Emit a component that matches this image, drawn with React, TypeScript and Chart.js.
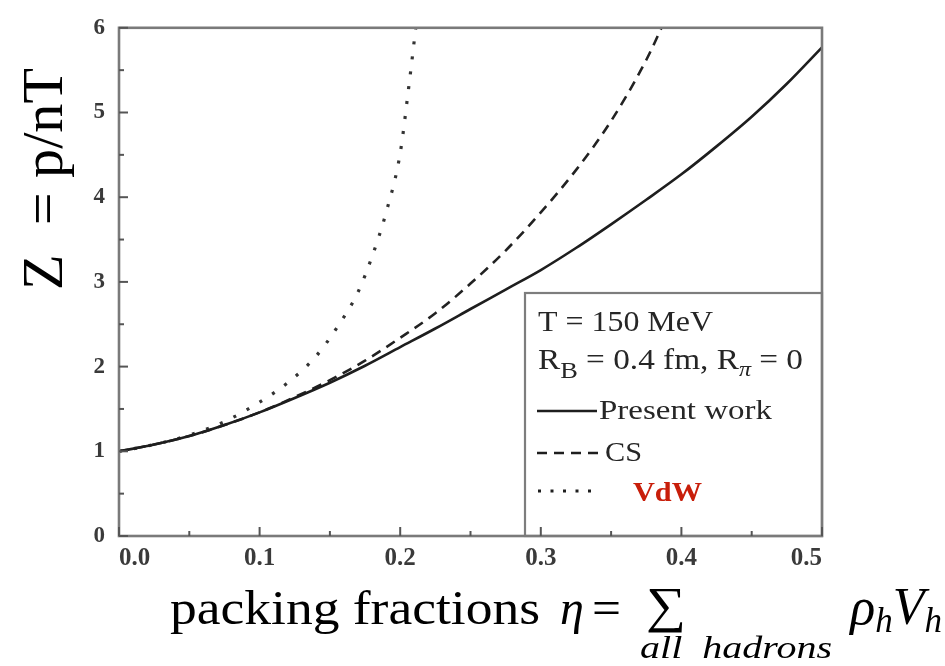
import React, { useEffect, useRef } from "react";
import { Chart, registerables } from "chart.js";

Chart.register(...registerables);

// ---- data ----
const etaPresent = [0, 0.025, 0.05, 0.075, 0.1, 0.125, 0.15, 0.175, 0.2, 0.225, 0.25, 0.275, 0.3, 0.325, 0.35, 0.375, 0.4, 0.425, 0.45, 0.475, 0.5];
const zPresent = [1.0, 1.08, 1.18, 1.31, 1.46, 1.63, 1.81, 2.01, 2.23, 2.45, 2.68, 2.91, 3.14, 3.4, 3.68, 3.97, 4.27, 4.6, 4.95, 5.34, 5.77];

const etaCS = [0, 0.025, 0.05, 0.075, 0.1, 0.125, 0.15, 0.175, 0.2, 0.225, 0.25, 0.275, 0.3, 0.325, 0.35, 0.375, 0.39];
const zCS = [1.0, 1.08, 1.18, 1.31, 1.46, 1.64, 1.84, 2.07, 2.34, 2.63, 2.98, 3.37, 3.82, 4.32, 4.9, 5.62, 6.15];

const etaVdW = [0, 0.025, 0.05, 0.075, 0.1, 0.12, 0.14, 0.155, 0.17, 0.18, 0.19, 0.2, 0.206, 0.211, 0.216];
const zVdW = [1.0, 1.08, 1.19, 1.35, 1.58, 1.81, 2.12, 2.46, 2.88, 3.3, 3.82, 4.52, 5.29, 5.99, 6.7];

const xTickLabels = ["0.0", "0.1", "0.2", "0.3", "0.4", "0.5"];
const yTickLabels = ["0", "1", "2", "3", "4", "5", "6"];

const seriesNames = ["Present work", "CS", "VdW"];
const legendHeader1 = "T = 150 MeV";

const SERIF = '"Liberation Serif", "Times New Roman", serif';

type Run = { t: string; f: string; dy?: number; c?: string };

function drawRuns(ctx: CanvasRenderingContext2D, runs: Run[], x: number, y: number, width?: number, alignRight?: boolean) {
  let total = 0;
  const ws = runs.map((r) => {
    ctx.font = r.f;
    const w = ctx.measureText(r.t).width;
    total += w;
    return w;
  });
  const sx = width ? width / total : 1;
  ctx.save();
  ctx.translate(alignRight ? x - total * sx : x, y);
  ctx.scale(sx, 1);
  ctx.textAlign = "left";
  ctx.textBaseline = "alphabetic";
  let cx = 0;
  runs.forEach((r, i) => {
    ctx.font = r.f;
    ctx.fillStyle = r.c || "#000";
    ctx.fillText(r.t, cx, r.dy || 0);
    cx += ws[i];
  });
  ctx.restore();
}

function seg(ctx: CanvasRenderingContext2D, x1: number, y1: number, x2: number, y2: number) {
  ctx.beginPath();
  ctx.moveTo(x1, y1);
  ctx.lineTo(x2, y2);
  ctx.stroke();
}

const decor = {
  id: "decor",
  afterDatasetsDraw(chart: any) {
    const { ctx, chartArea: a, scales } = chart;
    const x = scales.x;
    const y = scales.y;
    ctx.save();

    // legend box (bottom-right corner of plot)
    const bx = a.right - 297;
    const by = a.bottom - 243;
    ctx.fillStyle = "#fff";
    ctx.fillRect(bx, by, a.right - bx, a.bottom - by);
    ctx.strokeStyle = "#7d7d7d";
    ctx.lineWidth = 2.2;
    ctx.strokeRect(bx, by, a.right - bx, a.bottom - by);

    // frame
    ctx.strokeStyle = "#7a7a7a";
    ctx.lineWidth = 2.6;
    ctx.strokeRect(a.left, a.top, a.right - a.left, a.bottom - a.top);

    // inward ticks
    ctx.strokeStyle = "#555";
    ctx.lineWidth = 2;
    for (let i = 0; i <= 12; i++) {
      const py = y.getPixelForValue(i * 0.5);
      seg(ctx, a.left, py, a.left + (i % 2 === 0 ? 9 : 5), py);
    }
    for (let i = 0; i <= 10; i++) {
      const px = x.getPixelForValue(i * 0.05);
      seg(ctx, px, a.bottom, px, a.bottom - (i % 2 === 0 ? 9 : 5));
    }

    // legend content
    const tc = "#262626";
    drawRuns(ctx, [{ t: legendHeader1, f: `30px ${SERIF}`, c: tc }], bx + 13, by + 38, 175);
    drawRuns(
      ctx,
      [
        { t: "R", f: `29px ${SERIF}`, c: tc },
        { t: "B", f: `23px ${SERIF}`, c: tc, dy: 9 },
        { t: " = 0.4 fm, R", f: `29px ${SERIF}`, c: tc },
        { t: "π", f: `italic 21px ${SERIF}`, c: tc, dy: 7 },
        { t: " = 0", f: `29px ${SERIF}`, c: tc },
      ],
      bx + 13,
      by + 76,
      265
    );
    ctx.strokeStyle = "#1e1e1e";
    ctx.lineWidth = 2.6;
    seg(ctx, bx + 12, by + 118, bx + 72, by + 118);
    drawRuns(ctx, [{ t: seriesNames[0], f: `28px ${SERIF}`, c: tc }], bx + 74, by + 126, 173);
    ctx.setLineDash([10, 7]);
    seg(ctx, bx + 12, by + 160, bx + 75, by + 160);
    drawRuns(ctx, [{ t: seriesNames[1], f: `28px ${SERIF}`, c: tc }], bx + 80, by + 168, 37);
    ctx.lineWidth = 3;
    ctx.setLineDash([3, 9.5]);
    seg(ctx, bx + 13, by + 198, bx + 66, by + 198);
    ctx.setLineDash([]);
    drawRuns(ctx, [{ t: seriesNames[2], f: `bold 27px ${SERIF}`, c: "#c81e0a" }], bx + 108, by + 208, 69);

    ctx.restore();
  },
  afterDraw(chart: any) {
    const { ctx } = chart;
    ctx.save();
    // y title (rotated)
    ctx.translate(62, 290);
    ctx.rotate(-Math.PI / 2);
    drawRuns(ctx, [{ t: "Z  = p/nT", f: `58px ${SERIF}` }], 0, 0, 222);
    ctx.restore();

    // x title
    ctx.save();
    drawRuns(ctx, [{ t: "packing fractions", f: `48px ${SERIF}` }], 170, 624, 370);
    drawRuns(ctx, [{ t: "η", f: `italic 48px ${SERIF}` }], 560, 624);
    drawRuns(ctx, [{ t: "=", f: `48px ${SERIF}` }], 592, 624, 29);
    drawRuns(ctx, [{ t: "∑", f: `50px ${SERIF}` }], 646, 622, 40);
    drawRuns(
      ctx,
      [
        { t: "ρ", f: `italic 52px ${SERIF}` },
        { t: "h", f: `italic 35px ${SERIF}`, dy: 8 },
        { t: "V", f: `italic 52px ${SERIF}` },
        { t: "h", f: `italic 35px ${SERIF}`, dy: 8 },
      ],
      942,
      624,
      undefined,
      true
    );
    drawRuns(ctx, [{ t: "all  hadrons", f: `italic 32px ${SERIF}` }], 640, 658, 192);
    ctx.restore();
  },
};

export default function App() {
  const ref = useRef<HTMLCanvasElement>(null);
  useEffect(() => {
    const pts = (xs: number[], ys: number[]) => xs.map((e, i) => ({ x: e, y: ys[i] }));
    const chart = new Chart(ref.current as HTMLCanvasElement, {
      type: "line",
      data: {
        datasets: [
          {
            label: seriesNames[0],
            data: pts(etaPresent, zPresent),
            borderColor: "#1e1e1e",
            borderWidth: 2.6,
            pointRadius: 0,
            cubicInterpolationMode: "monotone",
            fill: false,
          },
          {
            label: seriesNames[1],
            data: pts(etaCS, zCS),
            borderColor: "#222",
            borderWidth: 2.6,
            borderDash: [10, 7],
            pointRadius: 0,
            cubicInterpolationMode: "monotone",
            fill: false,
          },
          {
            label: seriesNames[2],
            data: pts(etaVdW, zVdW),
            borderColor: "#333",
            borderWidth: 3.2,
            borderDash: [3, 12],
            pointRadius: 0,
            cubicInterpolationMode: "monotone",
            fill: false,
          },
        ],
      },
      options: {
        responsive: false,
        animation: false,
        devicePixelRatio: 1,
        events: [],
        layout: { padding: { left: 0, right: 123, top: 13, bottom: 90 } },
        plugins: { legend: { display: false }, tooltip: { enabled: false }, title: { display: false } },
        scales: {
          x: {
            type: "linear",
            min: 0,
            max: 0.5,
            grid: { display: false, drawTicks: false },
            border: { display: false },
            ticks: {
              stepSize: 0.1,
              align: "inner",
              padding: 8,
              autoSkip: false,
              maxRotation: 0,
              font: { family: SERIF, size: 25, weight: "bold" },
              color: "#3a3a3a",
              callback: (_v: any, i: number) => xTickLabels[i],
            },
            afterFit: (s: any) => {
              s.height = 40;
            },
          },
          y: {
            type: "linear",
            min: 0,
            max: 6,
            grid: { display: false, drawTicks: false },
            border: { display: false },
            ticks: {
              stepSize: 1,
              padding: 14,
              autoSkip: false,
              font: { family: SERIF, size: 23, weight: "bold" },
              color: "#3a3a3a",
              callback: (_v: any, i: number) => yTickLabels[i],
            },
            afterFit: (s: any) => {
              s.width = 119;
            },
          },
        },
      },
      plugins: [decor],
    } as any);
    return () => chart.destroy();
  }, []);
  return (
    <div style={{ position: "fixed", left: 0, top: 0, width: 945, height: 666, background: "#fff" }}>
      <canvas ref={ref} width={945} height={666} style={{ display: "block" }} />
    </div>
  );
}
